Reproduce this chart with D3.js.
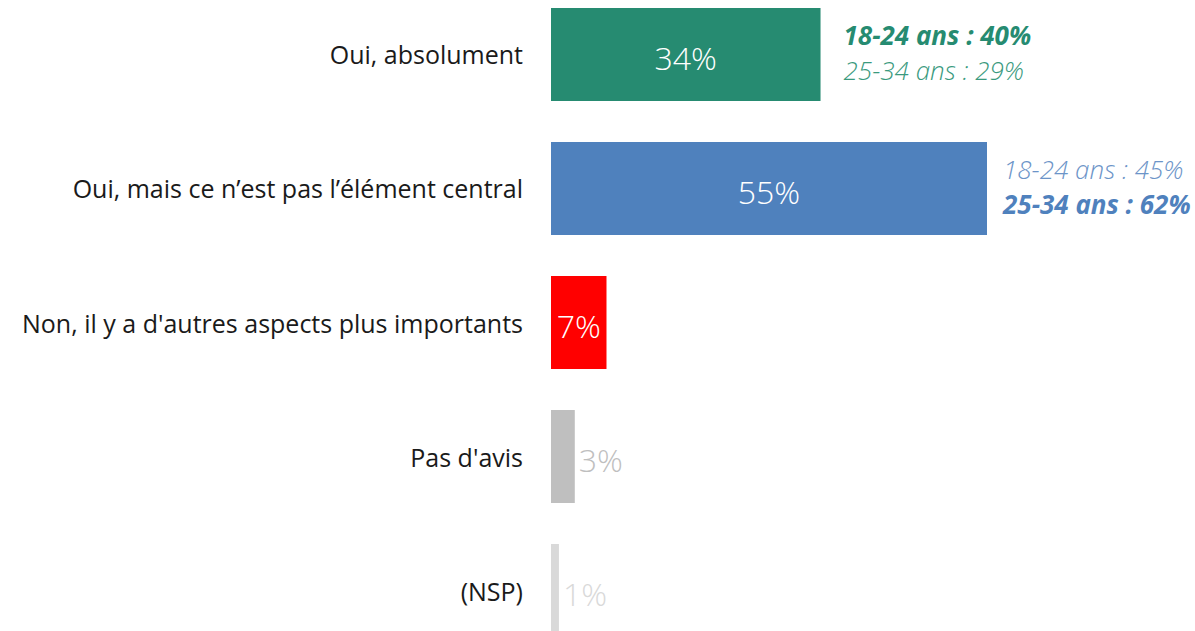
<!DOCTYPE html>
<html><head><meta charset="utf-8">
<script src="https://cdn.jsdelivr.net/npm/d3@7"></script>
<style>body{margin:0;background:#fff}svg{display:block}</style>
</head><body>
<script>
const categories = ["Oui, absolument","Oui, mais ce n’est pas l’élément central","Non, il y a d'autres aspects plus importants","Pas d'avis","(NSP)"];
const values = [34,55,7,3,1];
const barColors = ["#268B71","#4F81BD","#FF0000","#BFBFBF","#D9D9D9"];
const labelColors = ["#ffffff","#ffffff","#ffffff","#BFBFBF","#D9D9D9"];
const labelInside = [true,true,true,false,false];
const notes = [
  {cat:0, lines:[{t:"18-24 ans : 40%",bold:true,c:"#268B71"},{t:"25-34 ans : 29%",bold:false,c:"#3A9A7E"}]},
  {cat:1, lines:[{t:"18-24 ans : 45%",bold:false,c:"#6C94C8"},{t:"25-34 ans : 62%",bold:true,c:"#4F81BD"}]}
];
const noteOffsets = [23,16];

const W=1195,H=631;
const FONT="'Open Sans', Lato, sans-serif";
const svg=d3.select("body").append("svg").attr("width",W).attr("height",H);
const x=d3.scaleLinear().domain([0,55]).range([551,987]);
const y=d3.scaleBand().domain(categories).range([8,637]).paddingInner(0.306).paddingOuter(0);

svg.selectAll("rect.bar").data(values).join("rect")
  .attr("x",x(0)).attr("y",(d,i)=>y(categories[i]))
  .attr("width",d=>x(d)-x(0)).attr("height",y.bandwidth())
  .attr("fill",(d,i)=>barColors[i]);

svg.selectAll("text.cat").data(categories).join("text")
  .attr("x",523).attr("y",d=>y(d)+y.bandwidth()/2+1)
  .attr("dy","0.36em").attr("text-anchor","end")
  .attr("font-family",FONT).attr("font-size",25)
  .attr("fill","#1a1a1a").text(d=>d);

svg.selectAll("text.val").data(values).join("text")
  .attr("x",(d,i)=>labelInside[i]?(x(0)+x(d))/2:x(d)+4)
  .attr("y",(d,i)=>y(categories[i])+y.bandwidth()/2+4)
  .attr("dy","0.36em").attr("text-anchor",(d,i)=>labelInside[i]?"middle":"start")
  .attr("font-family",FONT).attr("font-weight",300).attr("font-size",32)
  .attr("fill",(d,i)=>labelColors[i]).text(d=>d+"%");

notes.forEach((n,k)=>{
  const cat=categories[n.cat];
  const x0=x(values[n.cat])+noteOffsets[k];
  const cy=y(cat)+y.bandwidth()/2;
  n.lines.forEach((l,j)=>{
    svg.append("text").attr("x",x0).attr("y",cy+(j===0?-19:16)).attr("dy","0.36em")
      .attr("font-family",FONT).attr("font-style","italic")
      .attr("font-weight",l.bold?700:300).attr("font-size",26).attr("fill",l.c).text(l.t);
  });
});
</script>
</body></html>
